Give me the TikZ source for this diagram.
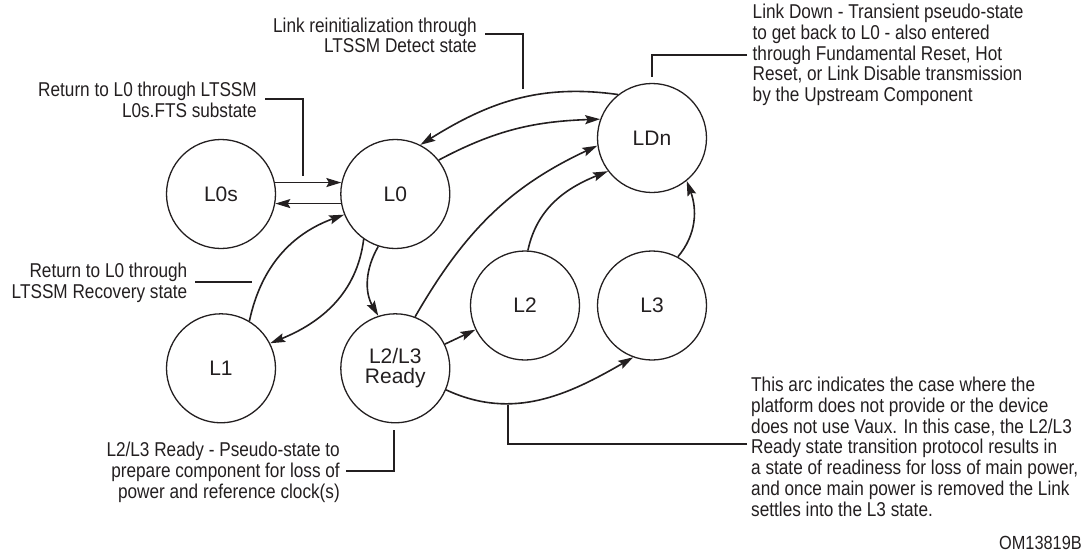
\documentclass[tikz,border=0pt]{standalone}
\usepackage{fontspec}
\setmainfont{Liberation Sans}
\newfontfamily\condensed{Liberation Sans}[FakeStretch=0.86]
\usepackage{tikz}
\usetikzlibrary{positioning, arrows.meta}
\definecolor{ink}{RGB}{35,31,32}

\begin{document}
\begin{tikzpicture}[
  x=1pt, y=1pt,
  node distance=64pt,
  state/.style={draw=ink, circle, line width=1.3pt, minimum size=109pt, inner sep=0pt,
                font=\fontsize{21}{20}\selectfont, align=center, text=ink},
  note/.style={font=\condensed\fontsize{20}{20.8}\selectfont, text=ink, inner sep=0pt},
  arr/.style={-{Stealth[length=15pt, width=9pt, inset=2.5pt]}, line width=1.6pt, color=ink},
  callout/.style={line width=2pt, color=ink},
]
  \useasboundingbox (0,0) rectangle (1089,-552);

  \node[state] (l0s) at (221,-194) {L0s};
  \node[state, right=of l0s] (l0) {L0};
  \node[state, below=of l0s] (l1) {L1};
  \node[state, below=of l0] (l23) {L2/L3\\Ready};
  \node[state] (l2) at (525,-305.5) {L2};
  \node[state] (l3) at (652,-305.5) {L3};
  \node[state] (ldn) at (652,-138) {LDn};

  \draw[arr] (l0s.12) -- (l0.168);
  \draw[arr] (l0.190) -- (l0s.-10);
  \draw[arr] (l1.59) to[out=78, in=200] (l0.202);
  \draw[arr] (l0.235) to[out=263, in=22] (l1.27);
  \draw[arr] (l0.252) to[out=240, in=120] (l23.108);
  \draw[arr] (l23.69) to[out=60, in=205] (ldn.188);
  \draw[arr] (l2.87) to[out=78, in=202] (ldn.217);
  \draw[arr] (l3.62) to[out=50, in=-70] (ldn.-51);
  \draw[arr] (l23.26) -- (l2.206);
  \draw[arr] (l23.-23) to[out=-25, in=210] (l3.250);
  \draw[arr] (ldn.128) to[out=172, in=32] (l0.63);
  \draw[arr] (l0.38) to[out=28, in=182] (ldn.160);

  \node[note, anchor=east, align=right] (reinit) at (477,-35.3)
    {Link reinitialization through\\LTSSM Detect state};
  \node[note, anchor=east, align=right] (fts) at (257,-100)
    {Return to L0 through LTSSM\\L0s.FTS substate};
  \node[note, anchor=east, align=right] (recov) at (187.5,-283)
    {Return to L0 through\\LTSSM Recovery state};
  \node[note, anchor=east, align=right] (readynote) at (340,-472.3)
    {L2/L3 Ready - Pseudo-state to\\prepare component for loss of\\power and reference clock(s)};
  \node[note, anchor=west, align=left] (ldnnote) at (752.5,-55)
    {Link Down - Transient pseudo-state\\to get back to L0 - also entered\\through Fundamental Reset, Hot\\Reset, or Link Disable transmission\\by the Upstream Component};
  \node[note, anchor=west, align=left] (arcnote) at (751,-446.7)
    {This arc indicates the case where the\\platform does not provide or the device\\does not use Vaux. In this case, the L2/L3\\Ready state transition protocol results in\\a state of readiness for loss of main power,\\and once main power is removed the Link\\settles into the L3 state.};
  \node[note, anchor=east, font=\condensed\fontsize{19}{20}\selectfont] (figid) at (1082,-543) {OM13819B};

  \coordinate (reinitA) at (485,-34.3);
  \coordinate (reinitB) at (522.7,-89.3);
  \coordinate (ftsA) at (265,-99);
  \coordinate (ftsB) at (302.7,-176);
  \coordinate (recovA) at (195,-281.7);
  \coordinate (recovB) at (251.7,-281.7);
  \coordinate (readyA) at (346,-470.7);
  \coordinate (readyB) at (394,-430);
  \coordinate (ldnA) at (747,-55);
  \coordinate (ldnB) at (651.5,-77);
  \coordinate (arcA) at (747,-444);
  \coordinate (arcB) at (508,-405);

  \draw[callout] (reinitA) -| (reinitB);
  \draw[callout] (ftsA) -| (ftsB);
  \draw[callout] (recovA) -- (recovB);
  \draw[callout] (readyA) -| (readyB);
  \draw[callout] (ldnA) -| (ldnB);
  \draw[callout] (arcA) -| (arcB);
\end{tikzpicture}
\end{document}
